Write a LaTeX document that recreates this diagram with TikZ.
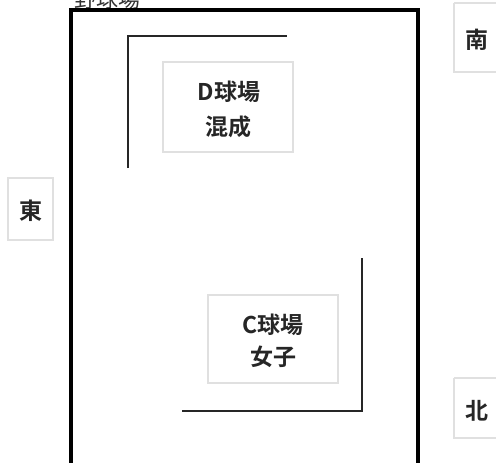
\documentclass[tikz,border=0pt]{standalone}
\usepackage{fontspec}
\newfontfamily\cjk{Noto Sans CJK JP}
\newfontfamily\cjkb{Noto Sans CJK JP Bold}
\begin{document}
\begin{tikzpicture}[x=1pt,y=-1pt,
  lbl/.style={font=\cjkb\fontsize{23}{31}\selectfont, text=black!85, align=center, inner sep=0pt},
  pale/.style={draw=black!12, line width=1.2pt},
  bracket/.style={draw=black!85, line width=1.8pt},
  outer/.style={draw=black, line width=3.5pt}]
\useasboundingbox (0,0) rectangle (496,463);
% partially clipped title
\node[font=\cjk\fontsize{22}{26}\selectfont, anchor=base west, inner sep=0pt, text=black!80] (title) at (74,7) {野球場};
% main court
\draw[outer] (71,480) -- (71,10) -- (418,10) -- (418,480);
% D court
\coordinate (d1) at (128,168);
\coordinate (d2) at (128,36);
\coordinate (d3) at (287,36);
\draw[bracket] (d1) -- (d2) -- (d3);
\draw[pale] (163,62) rectangle (293,152);
\node[lbl] (dname) at (229,92) {D球場};
\node[lbl] (dtype) at (228,127) {混成};
% C court
\coordinate (c1) at (362,258);
\coordinate (c2) at (362,411);
\coordinate (c3) at (182,411);
\draw[bracket] (c1) -- (c2) -- (c3);
\draw[pale] (208,295) rectangle (338,383);
\node[lbl] (cname) at (273,325) {C球場};
\node[lbl] (ctype) at (273,357) {女子};
% directions
\draw[pale] (8,178) rectangle (53,240);
\node[lbl] (east) at (31,211) {東};
\draw[pale] (454,3) -- (454,72) -- (500,72) (454,3) -- (500,3);
\node[lbl] (south) at (477,40) {南};
\draw[pale] (454,378) -- (454,438) -- (500,438) (454,378) -- (500,378);
\node[lbl] (north) at (477,411) {北};
\end{tikzpicture}
\end{document}
